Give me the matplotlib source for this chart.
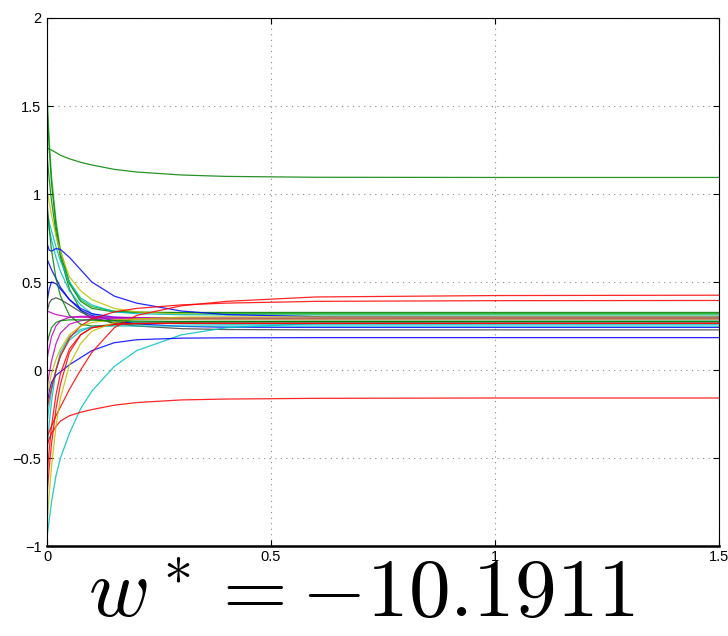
import matplotlib

matplotlib.use("Agg")

from matplotlib import pyplot as plt

plt.rcParams["mathtext.fontset"] = "cm"
plt.rcParams["font.family"] = ["Liberation Sans", "DejaVu Sans"]

# sample positions along t, and the trajectories
t = [0, 0.005, 0.01, 0.02, 0.03, 0.05, 0.075, 0.1, 0.15, 0.2, 0.3, 0.4, 0.6, 1.0, 1.5]

# falling from high start values
g_top = [1.26, 1.255, 1.25, 1.235, 1.22, 1.20, 1.18, 1.165, 1.14, 1.125, 1.108, 1.100, 1.095, 1.094, 1.094]
g_steep1 = [1.58, 1.30, 1.10, 0.85, 0.68, 0.50, 0.40, 0.36, 0.335, 0.328, 0.324, 0.322, 0.321, 0.321, 0.321]
g_steep2 = [1.50, 1.25, 1.06, 0.82, 0.66, 0.49, 0.39, 0.35, 0.33, 0.328, 0.327, 0.327, 0.327, 0.327, 0.327]
g_steep3 = [1.22, 1.08, 0.96, 0.78, 0.64, 0.46, 0.34, 0.29, 0.27, 0.272, 0.275, 0.276, 0.276, 0.276, 0.276]
y_fall = [1.03, 0.95, 0.88, 0.76, 0.67, 0.53, 0.45, 0.40, 0.35, 0.33, 0.318, 0.315, 0.314, 0.314, 0.314]
c_fall = [0.90, 0.84, 0.79, 0.70, 0.62, 0.50, 0.41, 0.37, 0.33, 0.32, 0.314, 0.313, 0.313, 0.313, 0.313]
c_fall2 = [0.87, 0.80, 0.74, 0.64, 0.56, 0.45, 0.37, 0.32, 0.285, 0.27, 0.262, 0.26, 0.26, 0.26, 0.26]
b_hump = [0.72, 0.68, 0.675, 0.69, 0.685, 0.64, 0.57, 0.50, 0.42, 0.38, 0.335, 0.315, 0.303, 0.302, 0.302]
b_fall = [0.63, 0.60, 0.57, 0.52, 0.47, 0.40, 0.34, 0.31, 0.28, 0.262, 0.248, 0.243, 0.242, 0.242, 0.242]
b_small = [0.39, 0.46, 0.50, 0.49, 0.46, 0.40, 0.35, 0.32, 0.30, 0.295, 0.293, 0.293, 0.293, 0.293, 0.293]
k_hump = [0.33, 0.38, 0.40, 0.41, 0.40, 0.37, 0.33, 0.30, 0.265, 0.25, 0.235, 0.23, 0.228, 0.228, 0.228]
m_flat = [0.335, 0.33, 0.325, 0.315, 0.31, 0.30, 0.30, 0.298, 0.295, 0.294, 0.293, 0.293, 0.293, 0.293, 0.293]
g_dip = [0.95, 0.80, 0.68, 0.52, 0.42, 0.31, 0.26, 0.25, 0.255, 0.262, 0.27, 0.274, 0.276, 0.276, 0.276]

# rising from low start values
m_rise = [0.06, 0.13, 0.19, 0.25, 0.28, 0.30, 0.305, 0.305, 0.30, 0.298, 0.296, 0.295, 0.295, 0.295, 0.295]
m_rise2 = [-0.10, -0.02, 0.05, 0.15, 0.21, 0.26, 0.28, 0.29, 0.29, 0.29, 0.29, 0.29, 0.29, 0.29, 0.29]
c_rise = [-0.30, -0.20, -0.12, 0.00, 0.08, 0.17, 0.22, 0.245, 0.26, 0.265, 0.267, 0.268, 0.268, 0.268, 0.268]
c_slow = [-0.95, -0.85, -0.75, -0.60, -0.50, -0.36, -0.22, -0.12, 0.02, 0.11, 0.20, 0.24, 0.265, 0.275, 0.276]
c_fast = [-0.48, -0.30, -0.18, 0.00, 0.10, 0.19, 0.23, 0.245, 0.25, 0.25, 0.25, 0.25, 0.25, 0.25, 0.25]
b_rise = [-0.20, -0.12, -0.07, -0.03, -0.01, 0.03, 0.07, 0.11, 0.155, 0.172, 0.181, 0.183, 0.184, 0.184, 0.184]
r_top = [-0.38, -0.35, -0.32, -0.26, -0.21, -0.11, 0.00, 0.10, 0.24, 0.31, 0.365, 0.39, 0.415, 0.423, 0.425]
r_second = [-0.22, -0.16, -0.10, 0.00, 0.08, 0.18, 0.25, 0.29, 0.33, 0.35, 0.37, 0.38, 0.39, 0.394, 0.395]
r_bottom = [-0.43, -0.39, -0.36, -0.32, -0.29, -0.26, -0.24, -0.225, -0.20, -0.185, -0.17, -0.165, -0.161, -0.159, -0.159]
r_deep = [-0.71, -0.55, -0.42, -0.22, -0.08, 0.10, 0.20, 0.24, 0.26, 0.264, 0.265, 0.265, 0.265, 0.265, 0.265]
r_mid = [-0.60, -0.45, -0.32, -0.14, -0.02, 0.12, 0.20, 0.24, 0.26, 0.265, 0.266, 0.266, 0.266, 0.266, 0.266]
y_deep = [-0.88, -0.70, -0.55, -0.32, -0.16, 0.03, 0.15, 0.22, 0.27, 0.29, 0.30, 0.302, 0.302, 0.302, 0.302]
y_low = [-0.15, -0.08, -0.02, 0.06, 0.12, 0.20, 0.25, 0.27, 0.285, 0.29, 0.29, 0.29, 0.29, 0.29, 0.29]
g_rise = [0.15, 0.20, 0.24, 0.27, 0.28, 0.285, 0.285, 0.283, 0.28, 0.278, 0.276, 0.276, 0.276, 0.276, 0.276]

B = (0, 0, 1)
G = (0, 0.5, 0)
R = (1, 0, 0)
C = (0, 0.75, 0.75)
M = (0.75, 0, 0.75)
Y = (0.75, 0.75, 0)
K = (0.25, 0.25, 0.25)
LG = (0.1, 0.7, 0.1)

series = [
    (g_top, G), (g_steep1, LG), (g_steep2, G), (g_steep3, G), (y_fall, Y),
    (c_fall, C), (c_fall2, C), (b_hump, B), (b_fall, B), (b_small, B),
    (k_hump, K), (m_flat, M), (g_dip, G), (m_rise, M), (m_rise2, M),
    (c_rise, C), (c_slow, C), (c_fast, C), (b_rise, B), (r_top, R),
    (r_second, R), (r_bottom, R), (r_deep, R), (r_mid, R), (y_deep, Y),
    (y_low, Y), (g_rise, G),
]

fig = plt.figure(figsize=(7.28, 6.36), dpi=100)
ax = fig.add_axes([0.0646, 0.1415, 0.9231, 0.8302])

for values, color in series:
    ax.plot(t, values, color=color, linewidth=0.9, alpha=0.85)

ax.set_xlim(0, 1.5)
ax.set_ylim(-1, 2)
ax.set_xticks([0, 0.5, 1, 1.5])
ax.set_xticklabels(["0", "0.5", "1", "1.5"])
ax.set_yticks([-1, -0.5, 0, 0.5, 1, 1.5, 2])
ax.set_yticklabels(["\u22121", "\u22120.5", "0", "0.5", "1", "1.5", "2"])
ax.grid(True, linestyle=(0, (1, 4)), color="#888888", linewidth=0.8)
ax.tick_params(direction="in", length=4, width=0.8, top=True, right=True, labelsize=10.5, pad=4)
ax.tick_params(axis="x", pad=3)
for side in ["top", "left", "right"]:
    ax.spines[side].set_linewidth(0.8)
ax.spines["bottom"].set_linewidth(1.8)

fig.text(0.497, 0.03, r"$w^* = -10.1911$", fontsize=60, ha="center", va="baseline")

fig.savefig("out.png", dpi=100)
plt.close(fig)
